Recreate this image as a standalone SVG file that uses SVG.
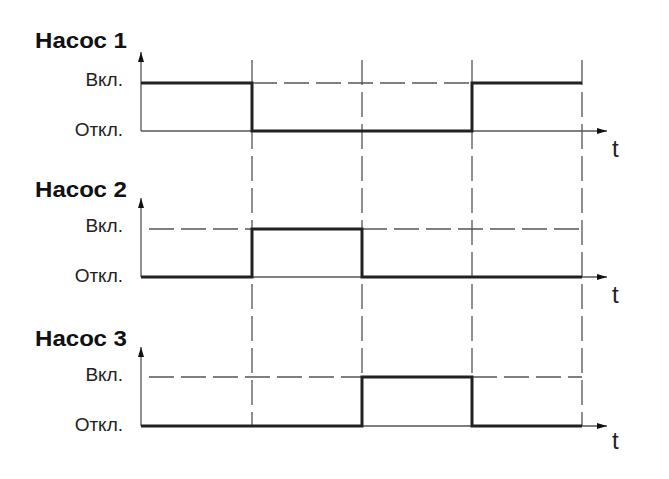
<svg xmlns="http://www.w3.org/2000/svg" width="669" height="479" viewBox="0 0 669 479">
<style>
.title{font-family:"Liberation Sans",Arial,sans-serif;font-weight:bold;font-size:22.5px;fill:#111}
.lbl{font-family:"Liberation Sans",Arial,sans-serif;font-size:19px;fill:#222;text-anchor:end}
.t{font-family:"Liberation Sans",Arial,sans-serif;font-size:24px;fill:#222}
.axis{stroke:#555;stroke-width:1.3;fill:none}
.dash{stroke:#555;stroke-width:1.3;fill:none;stroke-dasharray:25 7}
.sig{stroke:#222;stroke-width:3;fill:none;stroke-linejoin:miter}
</style>
<defs>
<marker id="arr" viewBox="0 0 10 6" refX="10" refY="3" markerWidth="10" markerHeight="6" markerUnits="userSpaceOnUse" orient="auto">
<path d="M0,0 L10,3 L0,6 Z" fill="#111"/>
</marker>
</defs>
<rect width="669" height="479" fill="#fff"/>
<g id="connectors">
<line class="dash" x1="252" y1="60" x2="252" y2="426"/>
<line class="dash" x1="362" y1="60" x2="362" y2="426"/>
<line class="dash" x1="472" y1="60" x2="472" y2="426"/>
<line class="dash" x1="582" y1="60" x2="582" y2="426"/>
</g>
<g id="chart1">
<text class="title" x="35" y="48" textLength="92" lengthAdjust="spacingAndGlyphs">Насос 1</text>
<text class="lbl" x="123" y="86">Вкл.</text>
<text class="lbl" x="123" y="136">Откл.</text>
<line class="axis" x1="141" y1="131" x2="141" y2="52" marker-end="url(#arr)"/>
<line class="axis" x1="141" y1="131" x2="607" y2="131" marker-end="url(#arr)"/>
<line class="dash" x1="252" y1="83" x2="472" y2="83"/>
<polyline class="sig" points="141,83 252,83 252,131 472,131 472,83 582,83"/>
<text class="t" x="612" y="157">t</text>
</g>
<g id="chart2">
<text class="title" x="35" y="197" textLength="92" lengthAdjust="spacingAndGlyphs">Насос 2</text>
<text class="lbl" x="123" y="232">Вкл.</text>
<text class="lbl" x="123" y="282">Откл.</text>
<line class="axis" x1="141" y1="277" x2="141" y2="198" marker-end="url(#arr)"/>
<line class="axis" x1="141" y1="277" x2="607" y2="277" marker-end="url(#arr)"/>
<line class="dash" x1="149" y1="229" x2="252" y2="229"/>
<line class="dash" x1="362" y1="229" x2="582" y2="229"/>
<polyline class="sig" points="141,277 252,277 252,229 362,229 362,277 582,277"/>
<text class="t" x="612" y="303">t</text>
</g>
<g id="chart3">
<text class="title" x="35" y="346" textLength="92" lengthAdjust="spacingAndGlyphs">Насос 3</text>
<text class="lbl" x="123" y="381">Вкл.</text>
<text class="lbl" x="123" y="431">Откл.</text>
<line class="axis" x1="141" y1="426" x2="141" y2="347" marker-end="url(#arr)"/>
<line class="axis" x1="141" y1="426" x2="607" y2="426" marker-end="url(#arr)"/>
<line class="dash" x1="149" y1="377" x2="362" y2="377"/>
<line class="dash" x1="472" y1="377" x2="582" y2="377"/>
<polyline class="sig" points="141,426 362,426 362,377 472,377 472,426 582,426"/>
<text class="t" x="612" y="449">t</text>
</g>
</svg>
